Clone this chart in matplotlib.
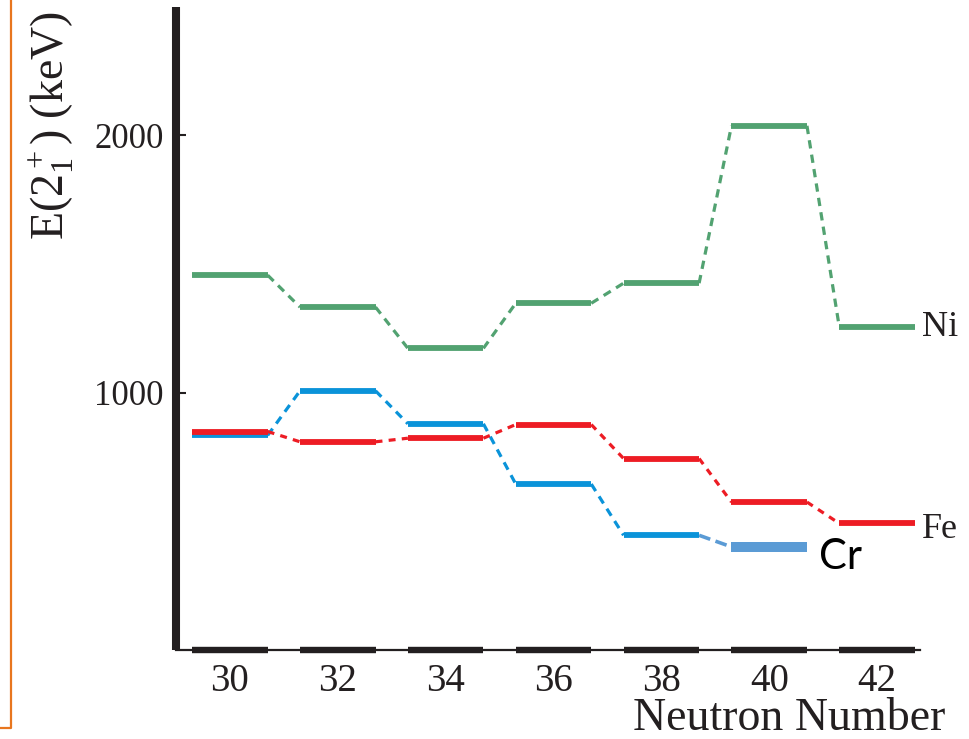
import matplotlib
matplotlib.use("Agg")
import matplotlib.pyplot as plt
from matplotlib.lines import Line2D

# E(2+_1) systematics along the Ni, Fe and Cr isotopic chains
ni_n = [30, 32, 34, 36, 38, 40, 42]
ni_e = [1457, 1333, 1173, 1348, 1426, 2037, 1255]

fe_n = [30, 32, 34, 36, 38, 40, 42]
fe_e = [850, 810, 824, 877, 745, 576, 493]

cr_n = [30, 32, 34, 36, 38, 40]
cr_e = [835, 1008, 880, 646, 447, 402]

x_ticks = [30, 32, 34, 36, 38, 40, 42]
y_ticks = [1000, 2000]

plt.rcParams["font.family"] = ["Liberation Serif", "DejaVu Serif"]
plt.rcParams["mathtext.fontset"] = "custom"
plt.rcParams["mathtext.rm"] = "Liberation Serif"
plt.rcParams["mathtext.it"] = "Liberation Serif:italic"
plt.rcParams["lines.scale_dashes"] = False

INK = "#231f20"
GREEN = "#52a271"
RED = "#ed1c24"
BLUE = "#0a93d9"
LIGHT_BLUE = "#5b9bd5"
HALF = 0.70  # half width of a level bar, in neutron-number units

fig = plt.figure(figsize=(9.70, 7.39), dpi=100)
ax = fig.add_axes([176 / 970, 88.6 / 739, 755 / 970, 643.8 / 739])
ax.set_xlim(29, 43)
ax.set_ylim(0, 2500)


def level_scheme(n, e, color, dashes, lw_bar=4.2, lw_link=2.3):
    for i, (ni, ei) in enumerate(zip(n, e)):
        ax.plot([ni - HALF, ni + HALF], [ei, ei], color=color, lw=lw_bar,
                solid_capstyle="butt", zorder=3)
        if i + 1 < len(n):
            ax.plot([ni + HALF, n[i + 1] - HALF], [ei, e[i + 1]], color=color,
                    lw=lw_link, dashes=dashes, dash_capstyle="butt", zorder=2)


level_scheme(ni_n, ni_e, GREEN, (6.0, 4.5))
level_scheme(cr_n[:-1], cr_e[:-1], BLUE, (6.0, 4.5))
level_scheme(fe_n, fe_e, RED, (5.0, 4.5))

# Cr N=40 level and its link, drawn heavier
ax.plot([cr_n[-2] + HALF, cr_n[-1] - HALF], [cr_e[-2], cr_e[-1]],
        color=LIGHT_BLUE, lw=2.6, dashes=(8.5, 4.0), dash_capstyle="butt", zorder=2)
ax.plot([cr_n[-1] - HALF, cr_n[-1] + HALF], [cr_e[-1], cr_e[-1]],
        color=LIGHT_BLUE, lw=7.2, solid_capstyle="butt", zorder=3)

# baseline with ground-state bars
ax.plot([29, 42.8], [0, 0], color=INK, lw=1.6, zorder=4, clip_on=False)
for n in x_ticks:
    ax.plot([n - HALF, n + HALF], [0, 0], color=INK, lw=4.6,
            solid_capstyle="butt", zorder=4, clip_on=False)

# chain labels
ax.text(42.83, ni_e[-1], "Ni", fontsize=26, color=INK, ha="left", va="center")
ax.text(42.83, fe_e[-1] - 25, "Fe", fontsize=26, color=INK, ha="left", va="center")
ax.text(40.92, cr_e[-1] - 40, "Cr", fontsize=30, color="black", ha="left",
        va="center", family=["Lato", "DejaVu Sans"])

for side in ("top", "right", "bottom"):
    ax.spines[side].set_visible(False)
ax.spines["left"].set_linewidth(5.8)
ax.spines["left"].set_color(INK)
ax.spines["left"].set_capstyle("butt")

ax.set_yticks(y_ticks)
ax.set_yticklabels([str(v) for v in y_ticks])
ax.tick_params(axis="y", direction="in", length=7.5, width=1.5, color=INK,
               labelsize=25, labelcolor=INK, pad=9)
ax.set_xticks(x_ticks)
ax.set_xticklabels([str(v) for v in x_ticks])
ax.tick_params(axis="x", length=0, labelsize=28, labelcolor=INK, pad=9)

fig.text(51 / 970, 1 - 126 / 739, r"E($2_1^+$) (keV)", rotation=90,
         ha="center", va="center", fontsize=33, color=INK)
fig.text(945 / 970, 9 / 739, "Neutron Number", ha="right", va="baseline",
         fontsize=33, color=INK)

# orange frame edge on the left
fig.add_artist(Line2D([11 / 970, 11 / 970, 0], [1, 11 / 739, 11 / 739],
                      transform=fig.transFigure, color="#e8761e", lw=1.6))

fig.savefig("out.png", dpi=100)
